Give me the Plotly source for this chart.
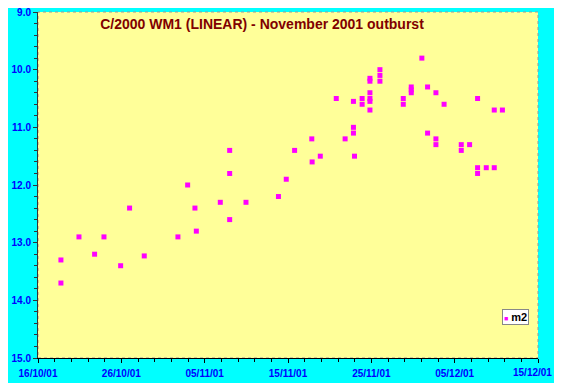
import plotly.graph_objects as go

# Observation times (UT) and m2 magnitudes
obs_dates = [
    "2001-10-18 18:00", "2001-10-18 18:00", "2001-10-20 22:00", "2001-10-22 19:00",
    "2001-10-23 22:00", "2001-10-25 22:00", "2001-10-26 23:45", "2001-10-28 18:00",
    "2001-11-01 19:00", "2001-11-02 23:00", "2001-11-03 20:00", "2001-11-04 00:00",
    "2001-11-06 21:00", "2001-11-08 00:00", "2001-11-08 00:00", "2001-11-08 00:00",
    "2001-11-09 23:00", "2001-11-13 20:30", "2001-11-14 19:00", "2001-11-15 19:00",
    "2001-11-17 20:30", "2001-11-17 21:30", "2001-11-18 21:00", "2001-11-20 19:00",
    "2001-11-21 20:30", "2001-11-22 20:30", "2001-11-22 20:30", "2001-11-22 20:30",
    "2001-11-22 23:30", "2001-11-23 21:30", "2001-11-23 21:30", "2001-11-24 20:00",
    "2001-11-24 20:00", "2001-11-24 20:00", "2001-11-24 20:00", "2001-11-24 20:00",
    "2001-11-24 20:00", "2001-11-26 00:45", "2001-11-26 00:45", "2001-11-26 00:45",
    "2001-11-28 20:00", "2001-11-28 20:00", "2001-11-29 19:00", "2001-11-29 19:00",
    "2001-11-29 19:00", "2001-12-01 01:30", "2001-12-01 18:00", "2001-12-01 18:00",
    "2001-12-02 18:00", "2001-12-02 18:00", "2001-12-02 18:00", "2001-12-03 17:30",
    "2001-12-05 19:00", "2001-12-05 19:00", "2001-12-06 19:00", "2001-12-07 18:00",
    "2001-12-07 18:00", "2001-12-07 18:00", "2001-12-08 19:00", "2001-12-09 18:00",
    "2001-12-09 18:00", "2001-12-10 17:30",
]
m2 = [
    13.3, 13.7, 12.9, 13.2,
    12.9, 13.4, 12.4, 13.23,
    12.9, 12.0, 12.4, 12.8,
    12.3, 11.4, 11.8, 12.6,
    12.3, 12.2, 11.9, 11.4,
    11.2, 11.6, 11.5, 10.5,
    11.2, 10.55, 11.0, 11.1,
    11.5, 10.5, 10.6, 10.15,
    10.2, 10.4, 10.5, 10.55,
    10.7, 10.0, 10.1, 10.2,
    10.5, 10.6, 10.3, 10.35,
    10.4, 9.8, 10.3, 11.1,
    10.4, 11.2, 11.3, 10.6,
    11.3, 11.4, 11.3, 10.5,
    11.7, 11.8, 11.7, 10.7,
    11.7, 10.7,
]
series_name = "m2"
title_text = "C/2000 WM1 (LINEAR) - November 2001 outburst"
tick_dates = ["2001-10-16", "2001-10-26", "2001-11-05", "2001-11-15",
              "2001-11-25", "2001-12-05", "2001-12-15"]
tick_labels = ["16/10/01", "26/10/01", "05/11/01", "15/11/01",
               "25/11/01", "05/12/01", "15/12/01"]
x_range = ["2001-10-16", "2001-12-15"]
y_range = [15.0, 9.0]

FONT = "Arial, Liberation Sans, sans-serif"
TICK_BLUE = "#0000FF"

fig = go.Figure()
fig.add_trace(go.Scatter(
    x=obs_dates, y=m2, mode="markers", name=series_name,
    marker=dict(symbol="square", size=5, color="#FF00FF", line=dict(width=0)),
    showlegend=False,
))

# the page body adds an 8px margin, so the figure is sized to fit the window
fig.update_layout(
    width=546, height=375,
    margin=dict(l=30, r=16, t=4, b=25, autoexpand=False),
    paper_bgcolor="white",
    plot_bgcolor="rgba(0,0,0,0)",
    title=dict(
        text=title_text, x=0.448, xanchor="center", xref="paper",
        y=1 - 16 / 375, yanchor="middle", yref="container", automargin=False,
        font=dict(family=FONT, size=14, color="#800000", weight="bold"),
    ),
    xaxis=dict(
        type="date", range=x_range, tickmode="array", tickvals=tick_dates,
        # last label is placed as an annotation so it stays inside the page
        ticktext=tick_labels[:-1] + [""],
        showgrid=False, zeroline=False, automargin=False,
        showline=True, linecolor="black", linewidth=1, ticklabeloverflow="allow",
        ticks="outside", ticklen=4, tickcolor="black", ticklabelstandoff=2,
        tickfont=dict(family=FONT, size=10, color=TICK_BLUE, weight="bold"),
        minor=dict(dtick=2 * 86400000, tick0="2001-10-16", ticks="outside",
                   ticklen=3, tickcolor="black", showgrid=False),
    ),
    yaxis=dict(
        range=y_range, dtick=1, tick0=9, tickformat=".1f", showgrid=False,
        zeroline=False, showline=True, linecolor="#333333", linewidth=1,
        automargin=False, ticklabeloverflow="allow",
        ticks="outside", ticklen=4, tickcolor="#333333",
        tickfont=dict(family=FONT, size=10, color=TICK_BLUE, weight="bold"),
        minor=dict(dtick=0.2, ticks="outside", ticklen=3, tickcolor="#333333",
                   showgrid=False),
    ),
    shapes=[
        dict(type="rect", xref="paper", yref="paper", x0=-0.07, x1=1.04,
             y0=-0.08, y1=1.02, fillcolor="#00FFFF", line=dict(width=0),
             layer="below"),
        dict(type="rect", xref="paper", yref="paper", x0=0, x1=1, y0=0, y1=1,
             fillcolor="#FFFF99", line=dict(color="#999999", width=1, dash="dot"),
             layer="below"),
    ],
    annotations=[
        dict(
            xref="paper", yref="paper", x=0.982, y=0.1416,
            xanchor="right", yanchor="top", showarrow=False,
            text="<span style='color:#FF00FF;font-size:7px'>■</span> <b>" + series_name + "</b>",
            font=dict(family=FONT, size=11, color="black"),
            bgcolor="white", bordercolor="#888888", borderwidth=1, borderpad=1,
        ),
        dict(
            xref="paper", yref="paper", x=1.03, y=-0.042,
            xanchor="right", yanchor="middle", showarrow=False,
            text=tick_labels[-1], borderpad=0,
            font=dict(family=FONT, size=10, color=TICK_BLUE, weight="bold"),
        ),
    ],
)

fig.write_html("out.html")
